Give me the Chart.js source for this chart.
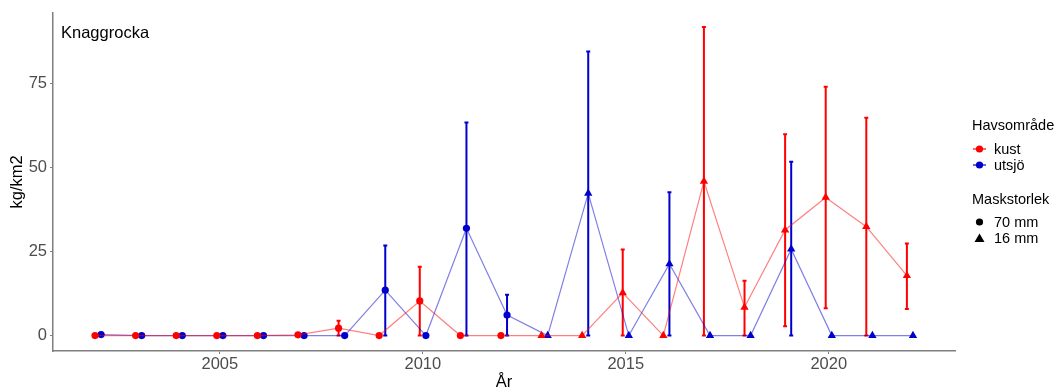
<!DOCTYPE html>
<html>
<head>
<meta charset="utf-8">
<script src="https://cdn.jsdelivr.net/npm/chart.js@4/dist/chart.umd.min.js"></script>
<style>
  html, body { margin: 0; padding: 0; background: #fff; }
  #wrap { position: relative; width: 1058px; height: 392px; }
</style>
</head>
<body>
<div id="wrap"><canvas id="myChart" width="1058" height="392"></canvas></div>
<script>
'use strict';

// Data
let years = [2002, 2003, 2004, 2005, 2006, 2007, 2008, 2009, 2010, 2011, 2012,
  2013, 2014, 2015, 2016, 2017, 2018, 2019, 2020, 2021, 2022];
// Maskstorlek per year: 70 mm until 2012, 16 mm after
let meshSize = ['70', '70', '70', '70', '70', '70', '70', '70', '70', '70', '70',
  '16', '16', '16', '16', '16', '16', '16', '16', '16', '16'];

let kustValues = [0, 0, 0, 0, 0, 0.2, 2.2, 0, 10.3, 0, 0,
  0, 0, 12.7, 0, 45.9, 8.4, 31.4, 41.1, 32.4, 17.8];
let kustLow = [null, null, null, null, null, null, 0, null, 0, null, null,
  null, null, 0, null, 0, 0, 2.8, 8.1, 0, 7.9];
let kustHigh = [null, null, null, null, null, null, 4.4, null, 20.5, null, null,
  null, null, 25.6, null, 91.8, 16.3, 59.9, 74.0, 64.8, 27.4];

let utsjoValues = [0.3, 0, 0, 0, 0, 0, 0, 13.5, 0, 31.9, 6.1,
  0, 42.3, 0, 21.3, 0, 0, 25.7, 0, 0, 0];
let utsjoLow = [null, null, null, null, null, null, null, 0, null, 0, 0,
  null, 0, null, 0, null, null, 0, null, null, null];
let utsjoHigh = [null, null, null, null, null, null, null, 26.8, null, 63.4, 12.1,
  null, 84.5, null, 42.6, null, null, 51.7, null, null, null];

let xTicks = [2005, 2010, 2015, 2020];
let yTicks = [0, 25, 50, 75];

let dodge = 0.075;
let red = '#FF0000';
let blue = '#0000CD';
let fontFamily = '"Liberation Sans", Arial, sans-serif';

function makePoints(values, shift) {
  return years.map((yr, i) => ({ x: yr + shift, y: values[i] }));
}

function pointShapes() {
  return meshSize.map(m => (m === '70' ? 'circle' : 'triangle'));
}

function pointSizes() {
  return meshSize.map(m => (m === '70' ? 3.6 : 4.8));
}

// Draw error bars from the low/high arrays through the chart scales
let errorBarPlugin = {
  id: 'errorBars',
  beforeDatasetsDraw(chart) {
    let ctx = chart.ctx;
    let xs = chart.scales.x;
    let ys = chart.scales.y;
    chart.data.datasets.forEach(ds => {
      ctx.save();
      ctx.strokeStyle = ds.errColor;
      ctx.lineWidth = 2;
      ds.data.forEach((pt, i) => {
        let lo = ds.errLow[i];
        let hi = ds.errHigh[i];
        if (lo === null || hi === null) return;
        let px = xs.getPixelForValue(pt.x);
        let pLo = ys.getPixelForValue(lo);
        let pHi = ys.getPixelForValue(hi);
        ctx.beginPath();
        ctx.moveTo(px, pLo);
        ctx.lineTo(px, pHi);
        ctx.moveTo(px - 2, pLo);
        ctx.lineTo(px + 2, pLo);
        ctx.moveTo(px - 2, pHi);
        ctx.lineTo(px + 2, pHi);
        ctx.stroke();
      });
      ctx.restore();
    });
  }
};

// Panel title and the two-part legend on the right
let decorPlugin = {
  id: 'decor',
  afterDraw(chart) {
    let ctx = chart.ctx;
    ctx.save();
    ctx.fillStyle = '#000';
    ctx.textBaseline = 'alphabetic';
    ctx.font = '16.5px ' + fontFamily;
    ctx.fillText('Knaggrocka', 61, 38);

    ctx.font = '14.5px ' + fontFamily;
    ctx.textBaseline = 'middle';
    ctx.fillText('Havsområde', 972, 126);
    ctx.fillText('Maskstorlek', 972, 200);

    let items = [['kust', red, 149], ['utsjö', blue, 165]];
    items.forEach(([label, col, y]) => {
      ctx.strokeStyle = col;
      ctx.lineWidth = 1.2;
      ctx.beginPath();
      ctx.moveTo(973, y);
      ctx.lineTo(986, y);
      ctx.stroke();
      ctx.fillStyle = col;
      ctx.beginPath();
      ctx.arc(979.5, y, 3.6, 0, Math.PI * 2);
      ctx.fill();
      ctx.fillStyle = '#000';
      ctx.fillText(label, 994, y + 1);
    });

    ctx.fillStyle = '#000';
    ctx.beginPath();
    ctx.arc(979.5, 222, 3.6, 0, Math.PI * 2);
    ctx.fill();
    ctx.fillText('70 mm', 994, 223);

    ctx.beginPath();
    ctx.moveTo(979.5, 233.5);
    ctx.lineTo(984.5, 242);
    ctx.lineTo(974.5, 242);
    ctx.closePath();
    ctx.fill();
    ctx.fillText('16 mm', 994, 239);
    ctx.restore();
  }
};

let chartObject = {
  type: 'line',
  data: {
    datasets: [
      {
        label: 'kust',
        data: makePoints(kustValues, -dodge),
        errLow: kustLow,
        errHigh: kustHigh,
        errColor: red,
        borderColor: 'rgba(255, 0, 0, 0.5)',
        borderWidth: 1.2,
        backgroundColor: red,
        pointBackgroundColor: red,
        pointBorderColor: red,
        pointBorderWidth: 0,
        pointStyle: pointShapes(),
        pointRadius: pointSizes(),
        tension: 0
      },
      {
        label: 'utsjö',
        data: makePoints(utsjoValues, dodge),
        errLow: utsjoLow,
        errHigh: utsjoHigh,
        errColor: blue,
        borderColor: 'rgba(0, 0, 205, 0.5)',
        borderWidth: 1.2,
        backgroundColor: blue,
        pointBackgroundColor: blue,
        pointBorderColor: blue,
        pointBorderWidth: 0,
        pointStyle: pointShapes(),
        pointRadius: pointSizes(),
        tension: 0
      }
    ]
  },
  options: {
    responsive: false,
    animation: false,
    layout: { padding: { top: 12, right: 103, left: 0, bottom: 0 } },
    plugins: {
      legend: { display: false },
      tooltip: { enabled: false }
    },
    scales: {
      x: {
        type: 'linear',
        min: 2000.89,
        max: 2023.11,
        afterBuildTicks: scale => { scale.ticks = xTicks.map(v => ({ value: v })); },
        afterFit: scale => { scale.height = 41; },
        ticks: {
          color: '#4d4d4d',
          font: { family: fontFamily, size: 16.5 },
          padding: 1,
          maxRotation: 0,
          callback: v => String(v)
        },
        grid: { drawOnChartArea: false, tickLength: 3, color: '#7f7f7f', lineWidth: 1 },
        border: { color: '#7f7f7f', width: 1.5 },
        title: {
          display: true,
          text: 'År',
          color: '#000',
          font: { family: fontFamily, size: 16.5 },
          padding: { top: 0, bottom: 0 }
        }
      },
      y: {
        min: -4.6,
        max: 96,
        afterBuildTicks: scale => { scale.ticks = yTicks.map(v => ({ value: v })); },
        afterFit: scale => { scale.width = 53; },
        ticks: {
          color: '#4d4d4d',
          font: { family: fontFamily, size: 16.5 },
          padding: 3
        },
        grid: { drawOnChartArea: false, tickLength: 3, color: '#7f7f7f', lineWidth: 1 },
        border: { color: '#7f7f7f', width: 1.5 },
        title: {
          display: true,
          text: 'kg/km2',
          color: '#000',
          font: { family: fontFamily, size: 16.5 },
          padding: { top: 8, bottom: 0 }
        }
      }
    }
  },
  plugins: [errorBarPlugin, decorPlugin]
};

let ctx = document.getElementById('myChart').getContext('2d');
let myChart = new Chart(ctx, chartObject);
</script>
</body>
</html>
